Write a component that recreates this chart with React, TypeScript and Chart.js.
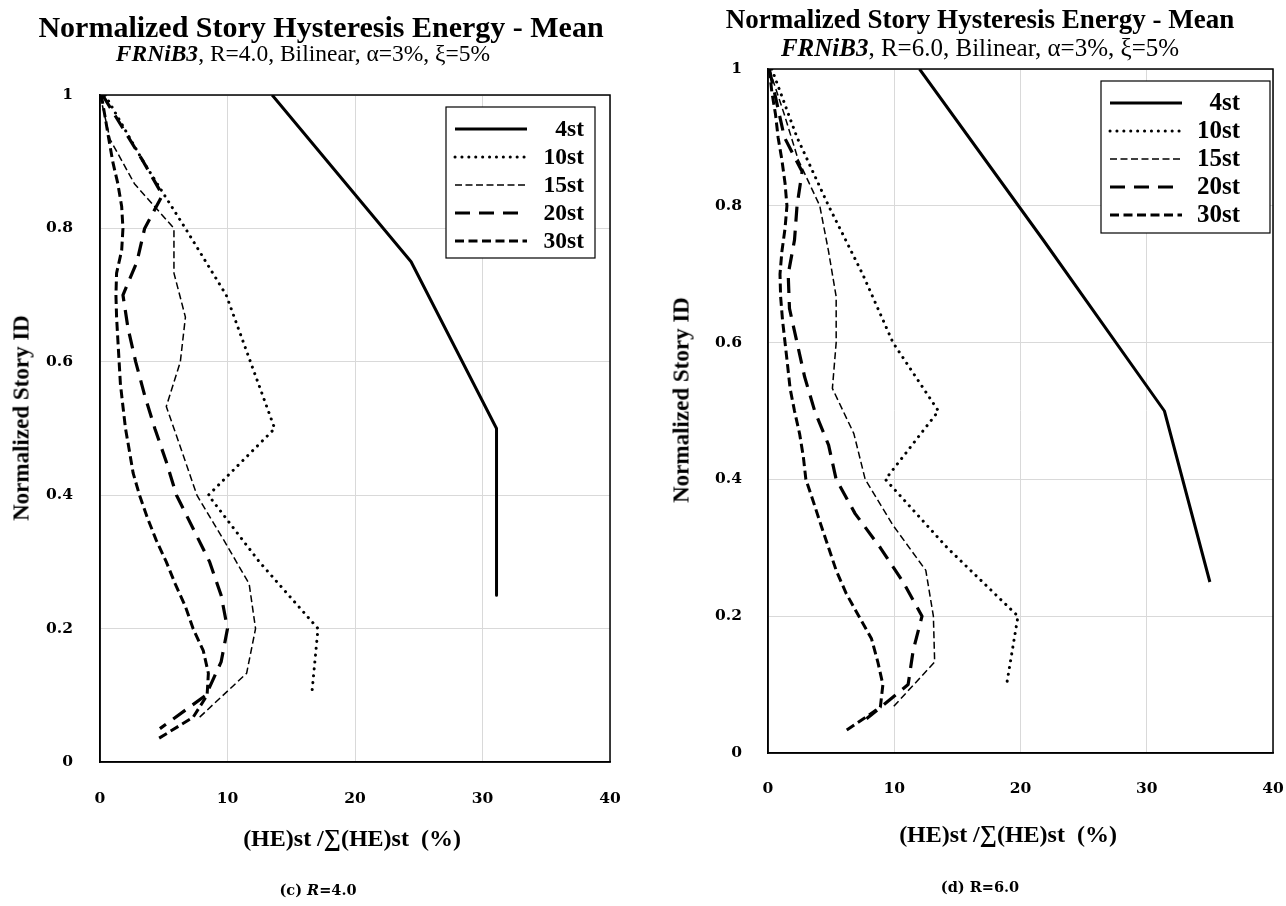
import React, { useEffect, useRef } from "react";
import { Chart, registerables } from "chart.js";

Chart.register(...registerables);

// ---------- data ----------
const SERIES_LABELS = ["4st", "10st", "15st", "20st", "30st"];
const X_TICKS = [0, 10, 20, 30, 40];
const Y_TICKS = [0, 0.2, 0.4, 0.6, 0.8, 1];
const Y_TICK_LABELS = ["0", "0.2", "0.4", "0.6", "0.8", "1"];

// normalized story IDs (top to bottom)
const ID_4 = [1, 0.75, 0.5, 0.25];
const ID_10 = [1, 0.9, 0.8, 0.7, 0.6, 0.5, 0.4, 0.3, 0.2, 0.1];
const ID_15 = [1, 0.933, 0.867, 0.8, 0.733, 0.667, 0.6, 0.533, 0.467, 0.4, 0.333, 0.267, 0.2, 0.133, 0.067];
const ID_20 = [1, 0.95, 0.9, 0.85, 0.8, 0.75, 0.7, 0.65, 0.6, 0.55, 0.5, 0.45, 0.4, 0.35, 0.3, 0.25, 0.2, 0.15, 0.1, 0.05];
const ID_30 = [1, 0.967, 0.933, 0.9, 0.867, 0.833, 0.8, 0.767, 0.733, 0.7, 0.667, 0.633, 0.6, 0.567, 0.533, 0.5, 0.467, 0.433, 0.4, 0.367, 0.333, 0.3, 0.267, 0.233, 0.2, 0.167, 0.133, 0.1, 0.067, 0.033];

// (c) R=4.0 : (HE)st / sum(HE)st in %
const R4_4ST = [13.5, 24.4, 31.1, 31.1];
const R4_10ST = [0.4, 3.4, 6.7, 9.9, 11.8, 13.7, 8.5, 12.5, 17.1, 16.6];
const R4_15ST = [0, 0.8, 2.7, 5.8, 5.8, 6.7, 6.3, 5.2, 6.4, 7.6, 9.7, 11.7, 12.2, 11.5, 7.8];
const R4_20ST = [0.2, 1.8, 3.4, 4.9, 3.5, 2.9, 1.8, 2.2, 2.8, 3.5, 4.3, 5.2, 6.0, 7.3, 8.6, 9.5, 10.0, 9.5, 8.3, 4.7];
const R4_30ST = [0.1, 0.4, 0.7, 1.0, 1.4, 1.7, 1.8, 1.7, 1.3, 1.25, 1.3, 1.4, 1.5, 1.6, 1.8, 2.0, 2.3, 2.6, 3.1, 3.7, 4.4, 5.2, 5.9, 6.7, 7.3, 8.1, 8.5, 8.4, 7.3, 4.4];

// (d) R=6.0
const R6_4ST = [12.0, 21.8, 31.4, 35.0];
const R6_10ST = [0.3, 2.3, 4.8, 7.5, 9.9, 13.5, 9.3, 14.2, 19.8, 18.9];
const R6_15ST = [0.1, 1.3, 2.4, 4.1, 4.8, 5.4, 5.4, 5.1, 6.8, 7.7, 9.9, 12.5, 13.1, 13.2, 9.9];
const R6_20ST = [0.1, 0.7, 1.3, 2.7, 2.3, 2.1, 1.6, 1.7, 2.3, 2.9, 3.7, 4.8, 5.4, 6.9, 8.9, 10.7, 12.2, 11.5, 11.1, 7.8];
const R6_30ST = [0.1, 0.3, 0.6, 0.8, 1.1, 1.35, 1.5, 1.35, 1.1, 0.95, 1.0, 1.15, 1.35, 1.55, 1.75, 2.1, 2.5, 2.8, 3.0, 3.6, 4.2, 4.8, 5.4, 6.2, 7.2, 8.2, 8.7, 9.1, 8.9, 6.2];

const IDS = [ID_4, ID_10, ID_15, ID_20, ID_30];
const R4_SERIES = [R4_4ST, R4_10ST, R4_15ST, R4_20ST, R4_30ST];
const R6_SERIES = [R6_4ST, R6_10ST, R6_15ST, R6_20ST, R6_30ST];

// ---------- styles ----------
const LINE_STYLES = [
  { width: 3, dash: [] as number[], cap: "butt" },
  { width: 3, dash: [0.1, 6.8], cap: "round" },
  { width: 1.5, dash: [7, 3.5], cap: "butt" },
  { width: 3.2, dash: [15, 9], cap: "butt" },
  { width: 3, dash: [9, 4.5], cap: "butt" },
];

const SERIF = '"Liberation Serif", "Times New Roman", serif';
const TICK_FONT = { family: '"DejaVu Serif", serif', weight: "bold" as const, size: 15.5 };

const framePlugin = {
  id: "frameLegend",
  afterDatasetsDraw(chart: any, _args: any, opts: any) {
    const { ctx, chartArea } = chart;
    ctx.save();
    ctx.setLineDash([]);
    ctx.strokeStyle = "#000";
    ctx.lineWidth = 1.5;
    ctx.strokeRect(chartArea.left, chartArea.top, chartArea.right - chartArea.left, chartArea.bottom - chartArea.top);
    const b = opts.box;
    ctx.fillStyle = "#fff";
    ctx.fillRect(b.x, b.y, b.w, b.h);
    ctx.lineWidth = 1.2;
    ctx.strokeRect(b.x, b.y, b.w, b.h);
    chart.data.datasets.forEach((ds: any, i: number) => {
      const y = b.y + 22 + i * 28;
      ctx.beginPath();
      ctx.setLineDash(ds.borderDash || []);
      ctx.lineWidth = ds.borderWidth;
      ctx.lineCap = ds.borderCapStyle || "butt";
      ctx.strokeStyle = "#000";
      ctx.moveTo(b.x + 9, y);
      ctx.lineTo(b.x + 81, y);
      ctx.stroke();
      ctx.setLineDash([]);
      ctx.fillStyle = "#000";
      ctx.font = `bold ${opts.fontSize}px ${SERIF}`;
      ctx.textAlign = "right";
      ctx.textBaseline = "middle";
      ctx.fillText(ds.label, b.x + b.w - opts.textInset, y + 1);
    });
    ctx.restore();
  },
};

type PanelCfg = {
  series: number[][];
  top: number;
  right: number;
  yWidth: number;
  xHeight: number;
  xPad: number;
  yPad: number;
  legendBox: { x: number; y: number; w: number; h: number };
  legendFont: number;
  legendInset: number;
};

function Panel({ cfg }: { cfg: PanelCfg }) {
  const ref = useRef<HTMLCanvasElement | null>(null);
  useEffect(() => {
    if (!ref.current) return;
    const datasets = SERIES_LABELS.map((label, i) => ({
      label,
      data: cfg.series[i].map((x, k) => ({ x, y: IDS[i][k] })),
      showLine: true,
      borderColor: "#000",
      backgroundColor: "#000",
      borderWidth: LINE_STYLES[i].width,
      borderDash: LINE_STYLES[i].dash,
      borderCapStyle: LINE_STYLES[i].cap,
      borderJoinStyle: "round",
      pointRadius: 0,
      tension: 0,
    }));
    const chart = new Chart(ref.current, {
      type: "scatter",
      data: { datasets } as any,
      options: {
        animation: false,
        responsive: false,
        devicePixelRatio: 1,
        layout: { padding: { top: cfg.top, right: cfg.right, left: 0, bottom: 0 } },
        plugins: {
          legend: { display: false },
          tooltip: { enabled: false },
          frameLegend: { box: cfg.legendBox, fontSize: cfg.legendFont, textInset: cfg.legendInset },
        } as any,
        scales: {
          x: {
            type: "linear",
            min: 0,
            max: 40,
            grid: { color: "#d9d9d9", lineWidth: 1, drawTicks: false },
            border: { color: "#000", width: 1.5 },
            ticks: { padding: cfg.xPad, font: TICK_FONT, color: "#000" },
            afterBuildTicks: (s: any) => {
              s.ticks = X_TICKS.map((v) => ({ value: v }));
            },
            afterFit: (s: any) => {
              s.height = cfg.xHeight;
              s.paddingLeft = 0;
              s.paddingRight = 0;
            },
          },
          y: {
            type: "linear",
            min: 0,
            max: 1,
            grid: { color: "#d9d9d9", lineWidth: 1, drawTicks: false },
            border: { color: "#000", width: 1.5 },
            ticks: {
              padding: cfg.yPad,
              font: TICK_FONT,
              color: "#000",
              callback: (v: number) => {
                const idx = Y_TICKS.findIndex((t) => Math.abs(t - v) < 1e-9);
                return idx >= 0 ? Y_TICK_LABELS[idx] : "";
              },
            },
            afterBuildTicks: (s: any) => {
              s.ticks = Y_TICKS.map((v) => ({ value: v }));
            },
            afterFit: (s: any) => {
              s.width = cfg.yWidth;
              s.paddingTop = 0;
              s.paddingBottom = 0;
            },
          },
        },
      } as any,
      plugins: [framePlugin],
    });
    return () => chart.destroy();
  }, [cfg]);
  return <canvas ref={ref} width={643} height={906} style={{ width: 643, height: 906, display: "block" }} />;
}

const LEFT: PanelCfg = {
  series: R4_SERIES,
  top: 95,
  right: 33,
  yWidth: 100,
  xHeight: 144,
  xPad: 28,
  yPad: 27,
  legendBox: { x: 446, y: 107, w: 149, h: 151 },
  legendFont: 23.5,
  legendInset: 11,
};
const RIGHT: PanelCfg = {
  series: R6_SERIES,
  top: 69,
  right: 13,
  yWidth: 125,
  xHeight: 153,
  xPad: 27,
  yPad: 26,
  legendBox: { x: 458, y: 81, w: 169, h: 152 },
  legendFont: 25,
  legendInset: 30,
};

const abs = (x: number, y: number, extra: React.CSSProperties = {}): React.CSSProperties => ({
  position: "absolute",
  left: x,
  top: y,
  transform: "translate(-50%, -50%)",
  whiteSpace: "nowrap",
  lineHeight: 1,
  color: "#000",
  fontFamily: SERIF,
  ...extra,
});

export default function App() {
  return (
    <div style={{ position: "fixed", left: 0, top: 0, width: 1286, height: 906, background: "#fff", overflow: "hidden" }}>
      <div style={{ position: "absolute", left: 0, top: 0 }}>
        <Panel cfg={LEFT} />
      </div>
      <div style={{ position: "absolute", left: 643, top: 0 }}>
        <Panel cfg={RIGHT} />
      </div>

      {/* left panel texts */}
      <div style={abs(321, 27, { fontSize: 30, fontWeight: "bold" })}>Normalized Story Hysteresis Energy - Mean</div>
      <div style={abs(303, 54, { fontSize: 23.5 })}>
        <b><i>FRNiB3</i></b>, R=4.0, Bilinear, α=3%, ξ=5%
      </div>
      <div style={abs(21, 418, { fontSize: 23, fontWeight: "bold", transform: "translate(-50%, -50%) rotate(-90deg)" })}>Normalized Story ID</div>
      <div style={abs(352, 838, { fontSize: 24, fontWeight: "bold" })}>(HE)st /∑(HE)st&nbsp;&nbsp;(%)</div>
      <div style={abs(318, 890, { fontSize: 14.5, fontWeight: "bold", fontFamily: '"DejaVu Serif", serif' })}>
        (c) <i>R</i>=4.0
      </div>

      {/* right panel texts */}
      <div style={abs(980, 19, { fontSize: 27, fontWeight: "bold" })}>Normalized Story Hysteresis Energy - Mean</div>
      <div style={abs(980, 47, { fontSize: 25 })}>
        <b><i>FRNiB3</i></b>, R=6.0, Bilinear, α=3%, ξ=5%
      </div>
      <div style={abs(681, 400, { fontSize: 23, fontWeight: "bold", transform: "translate(-50%, -50%) rotate(-90deg)" })}>Normalized Story ID</div>
      <div style={abs(1008, 834, { fontSize: 24, fontWeight: "bold" })}>(HE)st /∑(HE)st&nbsp;&nbsp;(%)</div>
      <div style={abs(980, 887, { fontSize: 14.5, fontWeight: "bold", fontFamily: '"DejaVu Serif", serif' })}>
        (d) R=6.0
      </div>
    </div>
  );
}
